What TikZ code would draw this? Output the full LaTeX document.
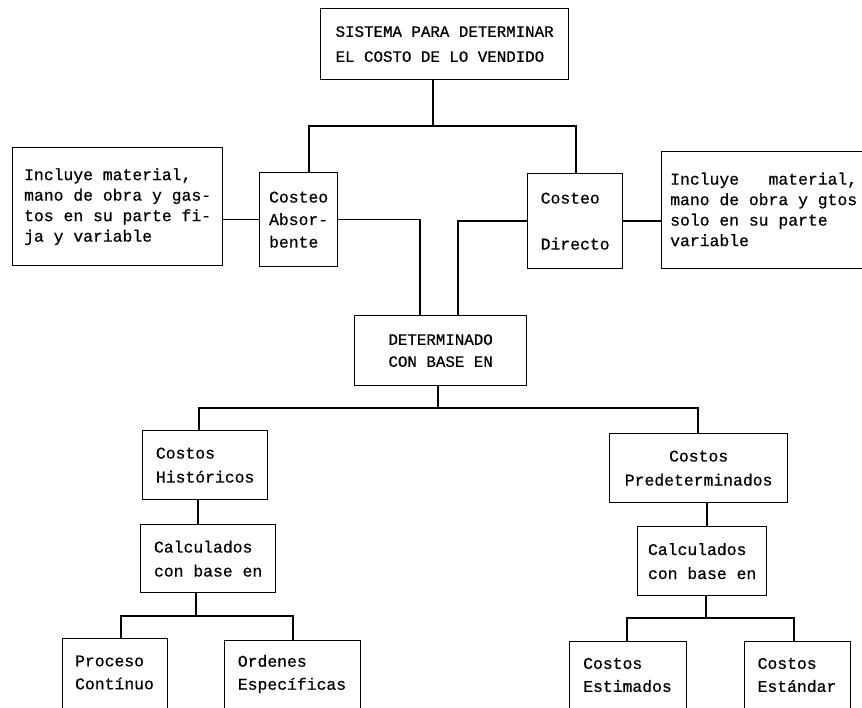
\documentclass[tikz,border=0pt]{standalone}
\usepackage{fontspec}
\newfontfamily\typewriter[FakeBold=0.6]{Liberation Mono}
\newcommand{\tw}[1]{\typewriter\fontsize{16.4}{#1}\selectfont}
\begin{document}
\begin{tikzpicture}[x=1pt,y=-1pt,
  box/.style={draw, line width=1.3pt, inner sep=0pt, anchor=north west,
              align=left, font=\tw{24}},
  txt/.style={inner sep=0pt, align=left, font=\tw{23}},
  link/.style={line width=1.3pt}]
\useasboundingbox (0,0) rectangle (862,708);
\clip (0,0) rectangle (862,708);

% --- top level ---
\node[box, minimum width=248, minimum height=71,
      font=\typewriter\fontsize{15.8}{25}\selectfont] (sys) at (320,8)
  {SISTEMA PARA DETERMINAR\\EL COSTO DE LO VENDIDO};

% --- costing methods with their notes ---
\node[box, minimum width=210, minimum height=118, font=\tw{20.5}] (absnote) at (12,147)
  {Incluye material,\\mano de obra y gas-\\tos en su parte fi-\\ja y variable};
\node[box, minimum width=78, minimum height=94, font=\tw{22.5}] (abs) at (259,172)
  {Costeo\\Absor-\\bente};
\node[box, minimum width=95, minimum height=95, font=\tw{23}] (dir) at (527,173)
  {Costeo\\[23pt]Directo};
\node[box, minimum width=260, minimum height=117] (dirnote) at (661,151) {};
\node[txt, anchor=west, font=\tw{20.5}] (dirnotetext) at (670,209.5)
  {Incluye\ \ \ material,\\mano de obra y gtos\\solo en su parte\\variable};

% --- basis ---
\node[box, minimum width=172, minimum height=70,
      font=\typewriter\fontsize{15.8}{22}\selectfont] (det) at (354,315)
  {DETERMINADO\\CON BASE EN};

% --- historical branch ---
\node[box, minimum width=125, minimum height=69] (hist) at (142,430)
  {Costos\\Históricos};
\node[box, minimum width=135, minimum height=68] (calcL) at (140,524)
  {Calculados\\con base en};
\node[box, minimum width=105, minimum height=130] (proc) at (62,638) {};
\node[txt] (proctext) at (114.5,672.5) {Proceso\\Contínuo};
\node[box, minimum width=136, minimum height=130] (ord) at (224,640) {};
\node[txt] (ordtext) at (292,674) {Ordenes\\Específicas};

% --- predetermined branch ---
\node[box, minimum width=178, minimum height=69, align=center] (pred) at (609,433)
  {Costos\\Predeterminados};
\node[box, minimum width=129, minimum height=69] (calcR) at (637,526)
  {Calculados\\con base en};
\node[box, minimum width=117, minimum height=130] (est) at (569,641) {};
\node[txt] (esttext) at (627.5,675) {Costos\\Estimados};
\node[box, minimum width=106, minimum height=130] (std) at (744,641) {};
\node[txt] (stdtext) at (797,675) {Costos\\Estándar};

% --- connectors ---
\coordinate (xa) at (433,126);
\coordinate (xb) at (309,126);
\coordinate (xc) at (576,126);
\draw[link] (sys.south -| xa) -- (xa);
\draw[link] (abs.north -| xb) -- (xb) -- (xc) -- (dir.north -| xc);
\draw[link] (abs.west) -- (abs.west -| absnote.east);
\draw[link] (dir.east) -- (dir.east -| dirnote.west);

\coordinate (xd) at (420,0);
\coordinate (xe) at (458,0);
\draw[link] (abs.east) -| (det.north -| xd);
\draw[link] (dir.west) -| (det.north -| xe);

\coordinate (ya) at (438,408);
\coordinate (yl) at (199,408);
\coordinate (yr) at (698,408);
\draw[link] (det.south -| ya) -- (ya);
\draw[link] (hist.north -| yl) -- (yl) -- (yr) -- (pred.north -| yr);

\coordinate (xh) at (198,0);
\coordinate (yb) at (196,616);
\coordinate (bl) at (121,616);
\coordinate (br) at (293,616);
\draw[link] (hist.south -| xh) -- (calcL.north -| xh);
\draw[link] (calcL.south -| yb) -- (yb);
\draw[link] (proc.north -| bl) -- (bl) -- (br) -- (ord.north -| br);

\coordinate (xp) at (707,0);
\coordinate (yc) at (706,618);
\coordinate (cl) at (627,618);
\coordinate (cr) at (794,618);
\draw[link] (pred.south -| xp) -- (calcR.north -| xp);
\draw[link] (calcR.south -| yc) -- (yc);
\draw[link] (est.north -| cl) -- (cl) -- (cr) -- (std.north -| cr);
\end{tikzpicture}
\end{document}
